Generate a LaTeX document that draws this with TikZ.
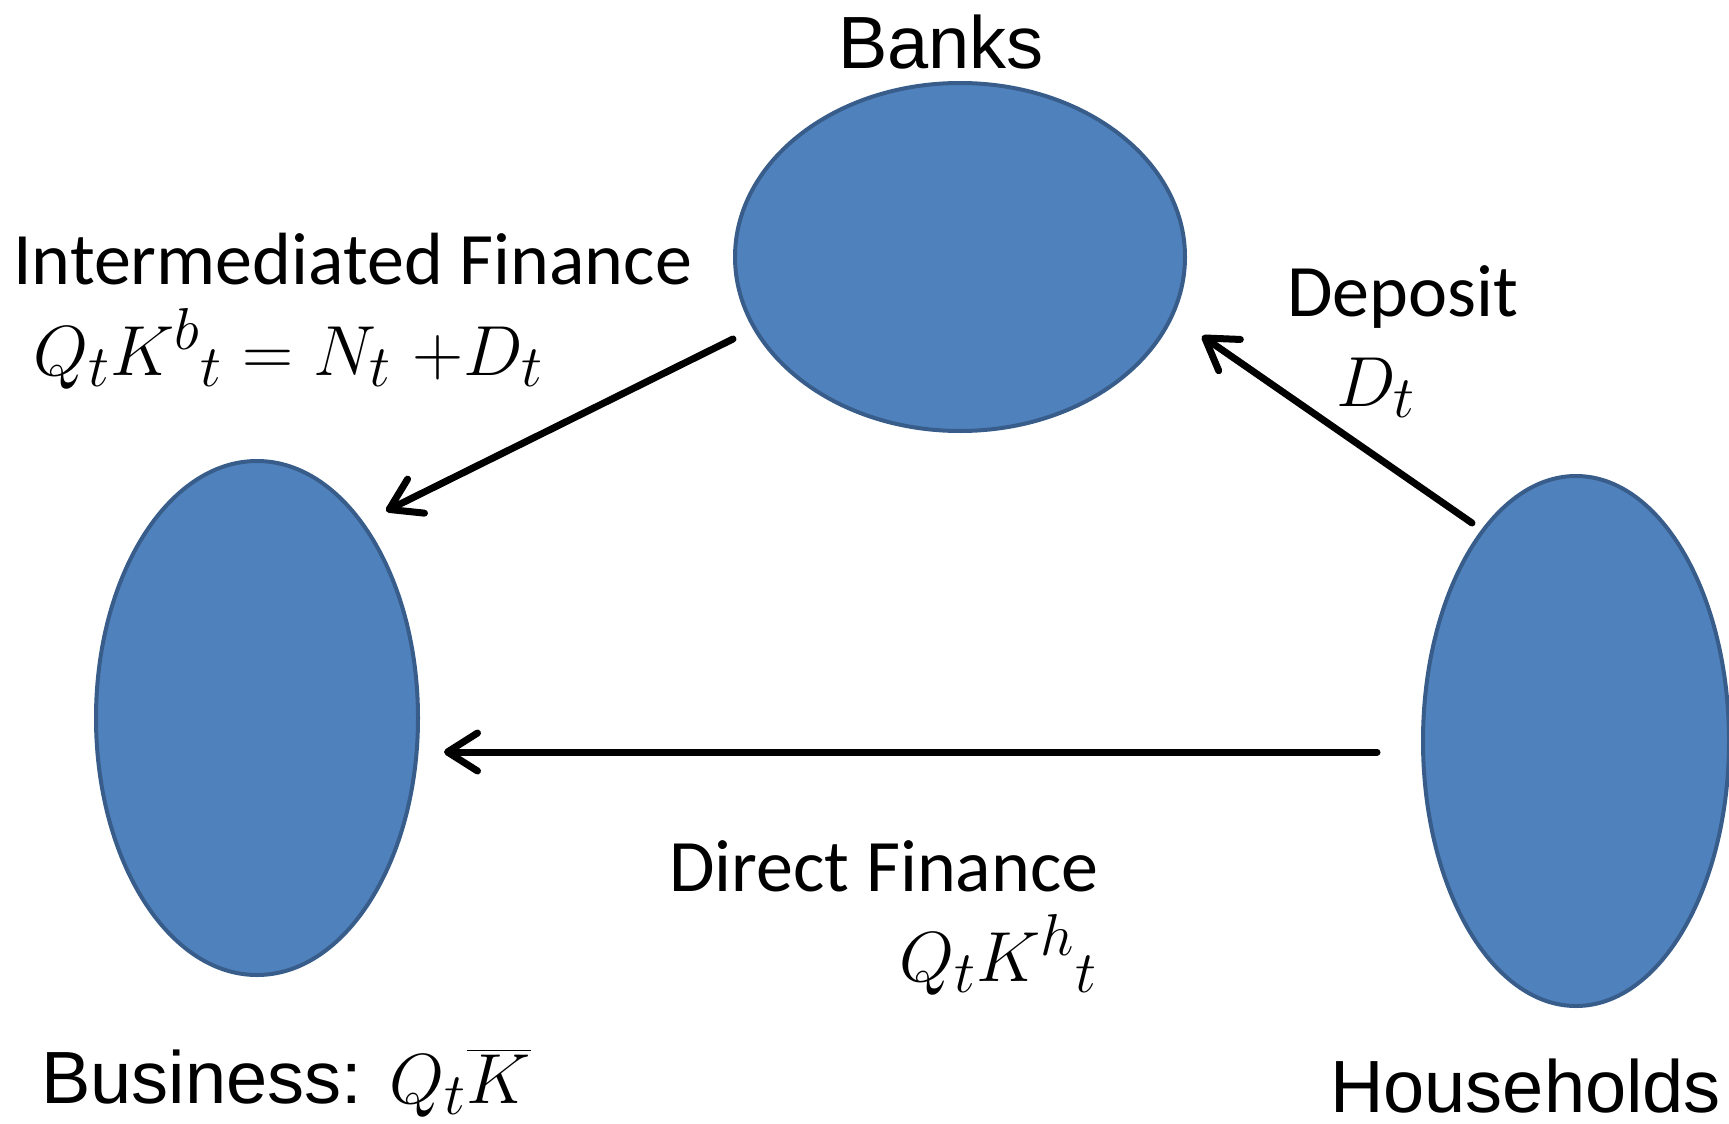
\documentclass[tikz,border=0pt]{standalone}
\usepackage{graphicx}
\usepackage{fontspec}
\usetikzlibrary{shapes.geometric,arrows.meta}
\newfontfamily\arialf{Liberation Sans}
\newfontfamily\calibrif{Carlito}
\newcommand{\hugemath}[1]{\scalebox{2.85}{\fontsize{24.88}{30}\selectfont$#1$}}
\definecolor{blobfill}{HTML}{4F81BD}
\definecolor{blobline}{HTML}{385D8A}
\begin{document}
\begin{tikzpicture}[x=1pt,y=-1pt,
  blob/.style={ellipse,draw=blobline,fill=blobfill,line width=4pt,inner sep=0pt},
  lbl/.style={inner sep=0pt,anchor=base west,font=\fontsize{74}{80}\selectfont},
  arial/.style={lbl,font=\fontsize{74}{80}\selectfont\arialf},
  calib/.style={lbl,font=\fontsize{74}{80}\selectfont\calibrif},
  flow/.style={line width=7pt,line cap=round,-{Straight Barb[length=30pt,width=38pt,line cap=round,line join=round]}}]
\useasboundingbox (0,0) rectangle (1729,1124);
\node[blob,minimum width=450pt,minimum height=348pt] (banks) at (960,257) {};
\node[blob,minimum width=322pt,minimum height=514pt] (business) at (257,718) {};
\node[blob,minimum width=306pt,minimum height=530pt] (households) at (1576,741) {};
\node[arial] (banksl) at (838,68) {Banks};
\node[arial] (businessl) at (41,1103) {Business: \hugemath{Q_t\overline{K}}};
\node[arial,text depth=0pt] (householdsl) at (1330,1112) {Households};
\node[calib] (intl) at (13,284) {Intermediated Finance};
\node[lbl] (intm) at (33,375) {\hugemath{Q_tK^{b}{}_t = N_t\ {+}D_t}};
\node[calib] (depl) at (1287,316) {Deposit};
\node[lbl] (depm) at (1336,406) {\hugemath{D_t}};
\node[calib] (dirl) at (669,891) {Direct Finance};
\node[lbl] (dirm) at (899,981) {\hugemath{Q_tK^{h}{}_t}};
\coordinate (b1) at (733,339);
\coordinate (z1) at (386,511);
\coordinate (h1) at (1472,523);
\coordinate (b2) at (1202,336);
\coordinate (h2) at (1377,752);
\coordinate (z2) at (444,752);
\draw[flow] (b1) -- (z1);
\draw[flow] (h1) -- (b2);
\draw[flow] (h2) -- (z2);
\end{tikzpicture}
\end{document}
